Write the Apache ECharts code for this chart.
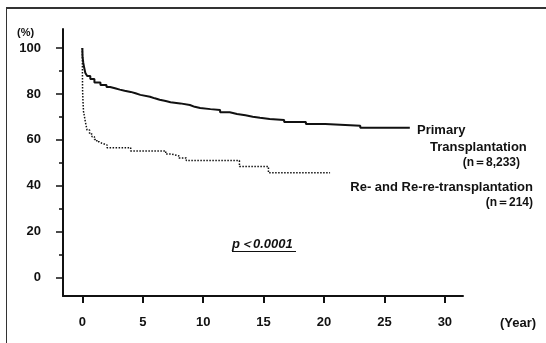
<!DOCTYPE html>
<html>
<head>
<meta charset="utf-8">
<script src="https://cdn.jsdelivr.net/npm/echarts@6/dist/echarts.min.js"></script>
<style>html,body{margin:0;padding:0;background:#fff}#c{width:546px;height:343px}</style>
</head>
<body>
<div id="c"></div>
<script>
// Data (Kaplan-Meier style step curves: [year, survival %])
const primaryCurve = [[0,100],[0.02,96],[0.08,93.5],[0.15,91.5],[0.25,89.1],[0.4,87.8],[0.66,86.5],[1.0,85],[1.5,83.9],[2.0,83],[2.3,82.5],[2.7,81.9],[3.1,81.4],[3.5,80.9],[4.0,80.3],[4.4,79.6],[4.8,78.8],[5.6,78.1],[6.0,77.5],[6.4,76.9],[6.9,76.4],[7.3,75.9],[8.1,75.2],[8.9,74.4],[9.3,73.9],[9.75,73.4],[10.6,73.0],[11.4,72.0],[12.2,71.3],[12.8,70.7],[13.5,70.1],[14.1,69.6],[14.7,69.1],[15.5,68.7],[16.7,67.8],[18.5,66.9],[20.1,66.2],[23,65.3],[27.1,65.3]];
const reCurve = [[0,100],[0.005,92],[0.01,87.5],[0.02,81.7],[0.06,76],[0.1,72.3],[0.25,67.9],[0.39,64.3],[0.6,62.6],[0.8,61.4],[1.0,60.2],[1.2,59.2],[1.4,58.5],[1.63,57.8],[2.04,56.6],[4.0,55.2],[6.9,53.8],[7.4,53.0],[8.0,52.1],[8.6,51.0],[13.0,48.4],[15.4,45.7],[20.5,45.7]];
const xTicks = [0,5,10,15,20,25,30];
const yTicks = [0,20,40,60,80,100];
const yMinorTicks = [10,30,50,70,90];
const seriesNames = ['Primary Transplantation','Re- and Re-re-transplantation'];
const labelPrimary = ['Primary','Transplantation','(n\uFF1D8,233)'];
const labelRe = ['Re- and Re-re-transplantation','(n\uFF1D214)'];
const pText = 'p\uFF1C0.0001';

const FONT = '"Liberation Sans", Arial, sans-serif';
const chart = echarts.init(document.getElementById('c'), null, {renderer:'canvas'});
const txt = (x,y,t,extra) => Object.assign({type:'text', x:x, y:y, style:Object.assign({text:t, fill:'#111', font:'bold 13px '+FONT, textVerticalAlign:'middle'}, extra||{})});
chart.setOption({
  animation:false,
  backgroundColor:'#fff',
  grid:{left:63, right:83, top:29, bottom:47},
  xAxis:{type:'value', min:-1.6, max:31.5,
    axisLine:{onZero:false, lineStyle:{color:'#111', width:2}},
    axisTick:{customValues:xTicks, length:7, lineStyle:{color:'#111', width:2}},
    axisLabel:{customValues:xTicks, margin:20, color:'#111', fontSize:13, fontWeight:'bold', fontFamily:FONT},
    splitLine:{show:false}},
  yAxis:[{type:'value', min:-8, max:108.3, position:'left',
    axisLine:{show:true, onZero:false, lineStyle:{color:'#111', width:2}},
    axisTick:{show:true, customValues:yTicks, length:7, lineStyle:{color:'#111', width:1.5}},
    axisLabel:{customValues:yTicks, margin:22, color:'#111', fontSize:13, fontWeight:'bold', fontFamily:FONT},
    splitLine:{show:false}},
   {type:'value', min:-8, max:108.3, position:'left', offset:0,
    axisLine:{show:false, onZero:false},
    axisTick:{show:true, customValues:yMinorTicks, length:4, lineStyle:{color:'#111', width:1.5}},
    axisLabel:{show:false}, splitLine:{show:false}}],
  series:[
    {name:seriesNames[0], type:'line', step:'end', data:primaryCurve, showSymbol:false, symbol:'none',
     lineStyle:{color:'#111', width:2}},
    {name:seriesNames[1], type:'line', step:'end', data:reCurve, showSymbol:false, symbol:'none',
     lineStyle:{color:'#111', width:1.5, type:[1.5,1.5]}}
  ],
  graphic:[
    {type:'line', shape:{x1:6.5, y1:8, x2:6.5, y2:343}, style:{stroke:'#333', lineWidth:1}},
    {type:'line', shape:{x1:6, y1:8, x2:546, y2:8}, style:{stroke:'#333', lineWidth:2}},
    txt(17,33,'(%)',{font:'bold 11px '+FONT}),
    txt(500,323,'(Year)',{font:'bold 13px '+FONT}),
    txt(417,130,labelPrimary[0]),
    txt(430,147,labelPrimary[1]),
    txt(520,163,labelPrimary[2],{textAlign:'right', font:'bold 12px '+FONT}),
    txt(533,187,labelRe[0],{textAlign:'right'}),
    txt(533,203,labelRe[1],{textAlign:'right', font:'bold 12px '+FONT}),
    txt(232,244,pText,{font:'italic bold 13px '+FONT}),
    {type:'line', shape:{x1:232, y1:251.5, x2:296, y2:251.5}, style:{stroke:'#111', lineWidth:1.2}}
  ]
});
</script>
</body>
</html>
